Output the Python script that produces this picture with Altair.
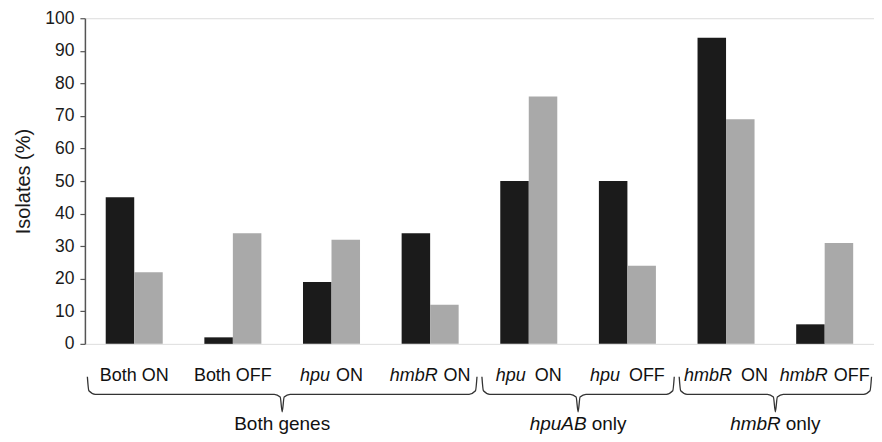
import altair as alt
import pandas as pd

# ---- data ----
categories = ["Both ON", "Both OFF", "hpu ON", "hmbR ON", "hpu  ON", "hpu  OFF", "hmbR  ON", "hmbR OFF"]
italic_parts = ["", "", "hpu", "hmbR", "hpu", "hpu", "hmbR", "hmbR"]
plain_parts = ["Both ON", "Both OFF", "ON", "ON", "ON", "OFF", "ON", "OFF"]
gap_spaces = [0, 0, 1, 1, 2, 2, 2, 1]
series_names = ["Series 1", "Series 2"]
series1_values = [45, 2, 19, 34, 50, 50, 94, 6]
series2_values = [22, 34, 32, 12, 76, 24, 69, 31]
group_italic = ["", "hpuAB", "hmbR"]
group_plain = ["Both genes", "only", "only"]
group_start = [0, 4, 6]
group_end = [4, 6, 8]
y_ticks = list(range(0, 101, 10))

# ---- layout constants ----
W, H = 790, 326
N = len(categories)
UNIT = W / N
FONT = "Liberation Sans"
CAT_SIZE = 18
GRP_SIZE = 19
CAT_BASE = 363
GRP_BASE = 412
BR_TOP, BR_BOT = 359, 394

ARIAL = {' ': 278, 'B': 667, 'o': 556, 't': 278, 'h': 556, 'O': 778, 'N': 722, 'F': 611,
         'p': 556, 'u': 556, 'm': 833, 'b': 556, 'R': 722, 'A': 667, 'n': 556, 'l': 222,
         'y': 500, 'g': 556, 'e': 556, 's': 500}


def tw(s, size):
    return sum(ARIAL.get(c, 556) for c in s) * size / 1000


def split_rows(centers, itals, plains, gaps_px, size):
    ital_rows, plain_rows = [], []
    for c, it, pl, g in zip(centers, itals, plains, gaps_px):
        wi = tw(it, size) if it else 0
        gg = g if it else 0
        total = wi + gg + tw(pl, size)
        left = c * UNIT - total / 2
        if it:
            ital_rows.append({"x": left / UNIT, "t": it})
        plain_rows.append({"x": (left + wi + gg) / UNIT, "t": pl})
    return pd.DataFrame(ital_rows), pd.DataFrame(plain_rows)


bar_df = pd.DataFrame(
    [{"category": c, "series": series_names[0], "value": v} for c, v in zip(categories, series1_values)]
    + [{"category": c, "series": series_names[1], "value": v} for c, v in zip(categories, series2_values)]
)

bars = alt.Chart(bar_df).mark_bar().encode(
    x=alt.X("category:N", sort=categories, axis=None,
            scale=alt.Scale(paddingInner=0, paddingOuter=0)),
    xOffset=alt.XOffset("series:N", sort=series_names,
                        scale=alt.Scale(paddingInner=0, paddingOuter=0.73)),
    y=alt.Y("value:Q", scale=alt.Scale(domain=[0, 100]),
            axis=alt.Axis(values=y_ticks, title="Isolates (%)", grid=False,
                          tickSize=5, tickColor="#555", tickWidth=1.2,
                          domainColor="#555", domainWidth=1.5,
                          labelFont=FONT, labelFontSize=17.5, labelColor="#1a1a1a",
                          labelPadding=6,
                          titleFont=FONT, titleFontSize=20, titleFontWeight="normal",
                          titleColor="#1a1a1a", titlePadding=11)),
    color=alt.Color("series:N", scale=alt.Scale(domain=series_names, range=["#1b1b1b", "#a9a9a9"]),
                    legend=None),
)

# ---- braces ----
brace_rows = []
for gi, (s, e) in enumerate(zip(group_start, group_end)):
    s2, e2 = s + 0.025, e - 0.025
    m = (s + e) / 2
    pts = [(s2, 1.0), (s2 + 0.015, 0.6), (s2 + 0.08, 0.5), (m - 0.08, 0.5), (m - 0.02, 0.42),
           (m, 0.0), (m + 0.02, 0.42), (m + 0.08, 0.5), (e2 - 0.08, 0.5), (e2 - 0.015, 0.6), (e2, 1.0)]
    for k, (px, py) in enumerate(pts):
        brace_rows.append({"g": gi, "k": k, "x": px, "y": py})
brace_df = pd.DataFrame(brace_rows)

xq = alt.Scale(domain=[0, N], nice=False, zero=False)

braces = alt.Chart(brace_df).mark_line(color="#333", strokeWidth=1.3, interpolate="monotone").encode(
    x=alt.X("x:Q", scale=xq,
            axis=alt.Axis(values=list(range(N + 1)), labels=False, title=None, grid=False,
                          tickSize=5, tickColor="#555", tickWidth=1.2,
                          domainColor="#555", domainWidth=1.5)),
    y=alt.Y("y:Q", scale=alt.Scale(domain=[0, 1], range=[BR_BOT, BR_TOP]), axis=None),
    detail="g:N",
    order="k:Q",
)

cat_centers = [i + 0.5 for i in range(N)]
cat_gaps = [0 if g == 0 else (6 if g == 1 else 9) for g in gap_spaces]
ci, cp = split_rows(cat_centers, italic_parts, plain_parts, cat_gaps, CAT_SIZE)

grp_centers = [(s + e) / 2 for s, e in zip(group_start, group_end)]
gi_df, gp_df = split_rows(grp_centers, group_italic, group_plain, [5] * 3, GRP_SIZE)


def text_layer(df, size, base, italic):
    kw = dict(align="left", baseline="alphabetic", font=FONT, fontSize=size, color="#111")
    if italic:
        kw["fontStyle"] = "italic"
    return alt.Chart(df).mark_text(**kw).encode(
        x=alt.X("x:Q", scale=xq, axis=None),
        y=alt.value(base),
        text="t:N",
    )


annot = alt.layer(
    braces,
    text_layer(ci, CAT_SIZE, CAT_BASE, True),
    text_layer(cp, CAT_SIZE, CAT_BASE, False),
    text_layer(gi_df, GRP_SIZE, GRP_BASE, True),
    text_layer(gp_df, GRP_SIZE, GRP_BASE, False),
)

chart = alt.layer(bars, annot).resolve_scale(x="independent", y="independent").properties(
    width=W, height=H,
    padding={"left": 77, "top": 10, "right": 0, "bottom": 90},
    autosize=alt.AutoSizeParams(type="none"),
).configure_view(stroke=None).configure(background="white")

chart.save("out.html", embed_options={"renderer": "svg", "actions": False})
